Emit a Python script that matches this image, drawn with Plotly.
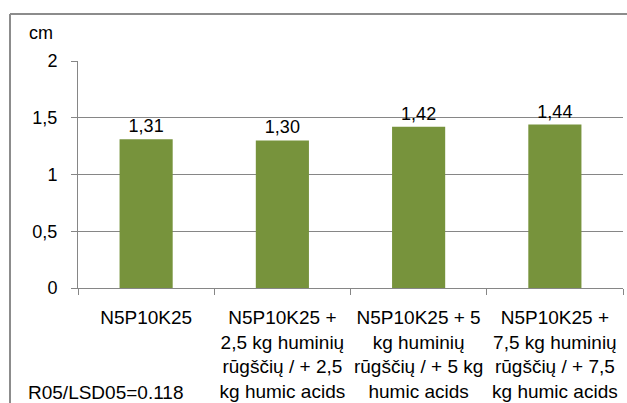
import plotly.graph_objects as go

categories = [
    "N5P10K25",
    "N5P10K25 +<br>2,5 kg huminių<br>rūgščių / + 2,5<br>kg humic acids",
    "N5P10K25 + 5<br>kg huminių<br>rūgščių / + 5 kg<br>humic acids",
    "N5P10K25 +<br>7,5 kg huminių<br>rūgščių / + 7,5<br>kg humic acids",
]
values = [1.31, 1.30, 1.42, 1.44]
y_ticks = [0, 0.5, 1, 1.5, 2]
unit_label = "cm"
lsd_note = "R05/LSD05=0.118"

W, H = 627, 403
L, R, T, B = 78, 4, 61, 115
pw, ph = W - L - R, H - T - B

def px(x):
    return (x - L) / pw

def py(y):
    return (H - B - y) / ph

FONT = "Liberation Sans"
grid = "#868686"

fig = go.Figure()
fig.add_trace(go.Bar(
    x=categories, y=values,
    marker=dict(color="#77933C", line=dict(width=0)),
    texttemplate="%{y:.2f}", textposition="outside",
    textfont=dict(family=FONT, size=18, color="#000000"),
    cliponaxis=False,
))

fig.update_layout(
    width=W, height=H,
    margin=dict(l=L, r=R, t=T, b=B, pad=0),
    paper_bgcolor="white", plot_bgcolor="white",
    separators=", ",
    showlegend=False,
    bargap=0.61,
    font=dict(family=FONT, size=18, color="#000000"),
    xaxis=dict(
        type="category", tickson="boundaries",
        ticks="outside", ticklen=6, tickcolor=grid,
        showline=True, linecolor=grid, linewidth=1,
        showgrid=False, tickangle=0, automargin=False,
        tickfont=dict(family=FONT, size=19, color="#000000"),
        ticklabelstandoff=12,
    ),
    yaxis=dict(
        range=[0, 2], tickvals=y_ticks,
        ticks="outside", ticklen=6, tickcolor=grid,
        showline=True, linecolor=grid, linewidth=1,
        showgrid=True, gridcolor=grid, gridwidth=1,
        zeroline=False, automargin=False,
        tickfont=dict(family=FONT, size=18, color="#000000"),
        ticklabelstandoff=10,
    ),
    annotations=[
        dict(text=unit_label, xref="paper", yref="paper",
             x=px(27), y=py(33), xanchor="left", yanchor="middle",
             showarrow=False, font=dict(family=FONT, size=18, color="#000000")),
        dict(text=lsd_note, xref="paper", yref="paper",
             x=px(26), y=py(392), xanchor="left", yanchor="middle",
             showarrow=False, font=dict(family=FONT, size=19, color="#000000")),
    ],
    shapes=[
        dict(type="line", xref="paper", yref="paper",
             x0=px(10), x1=px(640), y0=py(14), y1=py(14),
             line=dict(color="#8C8C8C", width=2)),
        dict(type="line", xref="paper", yref="paper",
             x0=px(10), x1=px(10), y0=py(14), y1=py(420),
             line=dict(color="#8C8C8C", width=2)),
    ],
)

fig.write_html("out.html")
